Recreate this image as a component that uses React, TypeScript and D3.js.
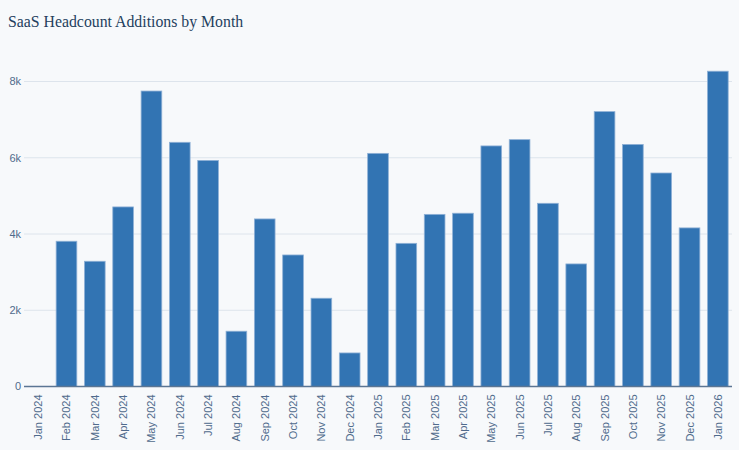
import React from "react";
import * as d3 from "d3";

const months = [
  "Jan 2024", "Feb 2024", "Mar 2024", "Apr 2024", "May 2024", "Jun 2024",
  "Jul 2024", "Aug 2024", "Sep 2024", "Oct 2024", "Nov 2024", "Dec 2024",
  "Jan 2025", "Feb 2025", "Mar 2025", "Apr 2025", "May 2025", "Jun 2025",
  "Jul 2025", "Aug 2025", "Sep 2025", "Oct 2025", "Nov 2025", "Dec 2025",
  "Jan 2026",
];
const additions = [
  0, 3810, 3285, 4710, 7750, 6405, 5930, 1450, 4395, 3450, 2315, 880,
  6115, 3755, 4515, 4545, 6310, 6475, 4805, 3215, 7210, 6350, 5600, 4160,
  8270,
];
const yTicks = [0, 2000, 4000, 6000, 8000];
const yTickLabels = ["0", "2k", "4k", "6k", "8k"];

const W = 739;
const H = 450;
const margin = { top: 55, right: 7, bottom: 63.5, left: 24 };

export default function App() {
  const x = d3
    .scaleBand<string>()
    .domain(months)
    .range([margin.left, W - margin.right])
    .paddingInner(0.27)
    .paddingOuter(0.135);
  const y = d3
    .scaleLinear()
    .domain([0, 8000])
    .range([H - margin.bottom, 81.5]);

  return (
    <svg
      width={W}
      height={H}
      style={{ position: "absolute", left: 0, top: 0, background: "#f7f9fb" }}
    >
      <rect x={0} y={0} width={W} height={H} fill="#f7f9fb" />
      <text
        x={8}
        y={27}
        fontFamily="'Liberation Serif', serif"
        fontSize={15.8}
        fill="#243f5e"
      >
        SaaS Headcount Additions by Month
      </text>
      {yTicks.map((t, i) => (
        <g key={t}>
          {t > 0 && (
            <line
              x1={margin.left}
              x2={W - margin.right}
              y1={y(t)}
              y2={y(t)}
              stroke="#dde4ec"
              strokeWidth={1}
            />
          )}
          <text
            x={margin.left - 3}
            y={y(t)}
            dy="0.35em"
            textAnchor="end"
            fontFamily="'Liberation Sans', Arial, sans-serif"
            fontSize={11}
            fill="#506b8c"
          >
            {yTickLabels[i]}
          </text>
        </g>
      ))}
      {months.map((m, i) => (
        <rect
          key={m}
          x={x(m)}
          y={y(additions[i])}
          width={x.bandwidth()}
          height={y(0) - y(additions[i])}
          fill="#3274b3"
          stroke="#8fb1d6"
          strokeWidth={0.8}
        />
      ))}
      <line
        x1={margin.left}
        x2={W - margin.right}
        y1={y(0)}
        y2={y(0)}
        stroke="#5b7694"
        strokeWidth={1.3}
      />
      {months.map((m) => {
        const cx = (x(m) as number) + x.bandwidth() / 2;
        return (
          <text
            key={m}
            transform={`translate(${cx + 4},${y(0) + 8}) rotate(-90)`}
            textAnchor="end"
            fontFamily="'Liberation Sans', Arial, sans-serif"
            fontSize={11}
            fill="#506b8c"
          >
            {m}
          </text>
        );
      })}
    </svg>
  );
}
